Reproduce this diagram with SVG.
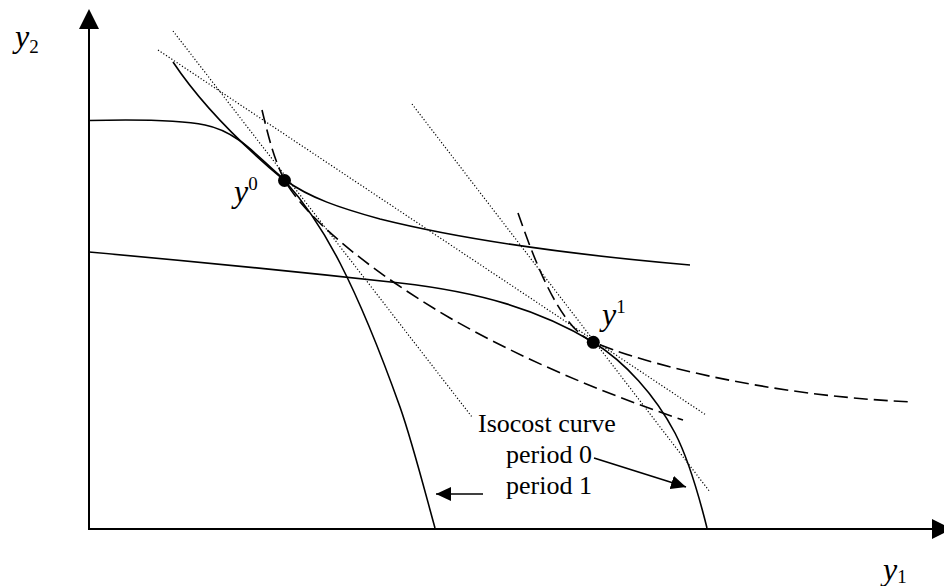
<svg xmlns="http://www.w3.org/2000/svg" width="944" height="586" viewBox="0 0 944 586">
<style>
.ax{stroke:#000;stroke-width:2;fill:none}
.sol{stroke:#000;stroke-width:1.6;fill:none}
.dash{stroke:#000;stroke-width:1.6;fill:none;stroke-dasharray:14 6}
.dot{stroke:#000;stroke-width:1.2;fill:none;stroke-dasharray:1.2 2}
.lbl{font-family:"Liberation Serif","Times New Roman",serif;font-size:26px;fill:#000}
.m{font-family:"Liberation Serif","Times New Roman",serif;font-size:32px;font-style:italic;fill:#000}
.idx{font-style:normal;font-size:19px}
</style>
<defs>
<marker id="axarr" markerUnits="userSpaceOnUse" markerWidth="20" markerHeight="20" refX="0" refY="10" orient="auto" viewBox="0 0 20 20"><path d="M0,0 L20,10 L0,20 z" fill="#000"/></marker>
<marker id="arr" markerUnits="userSpaceOnUse" markerWidth="15" markerHeight="14" refX="15" refY="7" orient="auto" viewBox="0 0 15 14"><path d="M0,0 L15,7 L0,14 z" fill="#000"/></marker>
</defs>
<rect width="944" height="586" fill="#fff"/>
<g id="axes">
<line class="ax" x1="89" y1="529" x2="89" y2="29" marker-end="url(#axarr)"/>
<line class="ax" x1="88" y1="529" x2="932" y2="529" marker-end="url(#axarr)"/>
</g>
<g id="tangents">
<line class="dot" x1="173" y1="31" x2="472" y2="417"/>
<line class="dot" x1="158" y1="50" x2="706" y2="415"/>
<line class="dot" x1="412" y1="104" x2="710" y2="492"/>
</g>
<g id="curves">
<path id="curveA" class="sol" d="M89,120.5 C130,119.5 175,119 205,125 C240,132 260,160 285,180 C310,198 340,208 380,219 C440,234 540,252 690,265"/>
<path id="curveB" class="sol" d="M173,62 C203,107 248,150 285,181 C303,201 322,228 340,263 C360,302 380,351 400,407 C412,441 425,492 435,528"/>
<path id="curveC" class="sol" d="M89,252 C200,262 300,272 400,283 C480,292 540,310 593,342 C625,362 655,395 675,433 C690,462 700,500 707,528"/>
<path id="isocost0" class="dash" d="M262,110 C268,135 274,160 285,181 C305,215 360,265 450,318 C520,358 600,392 683,420"/>
<path id="isocost1" class="dash" d="M518,213 C535,262 560,328 593,342 C640,362 760,395 912,402"/>
</g>
<g id="points">
<circle cx="284.5" cy="180.5" r="6.5" fill="#000"/>
<circle cx="593.3" cy="342.3" r="6.5" fill="#000"/>
</g>
<g id="connectors">
<line class="sol" x1="594" y1="458" x2="686" y2="487" marker-end="url(#arr)"/>
<line class="sol" x1="483" y1="494" x2="436" y2="494" marker-end="url(#arr)"/>
</g>
<g id="labels">
<text class="m" x="15" y="47">y<tspan class="idx" dy="6">2</tspan></text>
<text class="m" x="883" y="580">y<tspan class="idx" dy="3">1</tspan></text>
<text class="m" x="234" y="202">y<tspan class="idx" dy="-12">0</tspan></text>
<text class="m" x="602" y="325">y<tspan class="idx" dy="-12">1</tspan></text>
<text class="lbl" x="478" y="432">Isocost curve</text>
<text class="lbl" x="506" y="463">period 0</text>
<text class="lbl" x="506" y="494">period 1</text>
</g>
</svg>
